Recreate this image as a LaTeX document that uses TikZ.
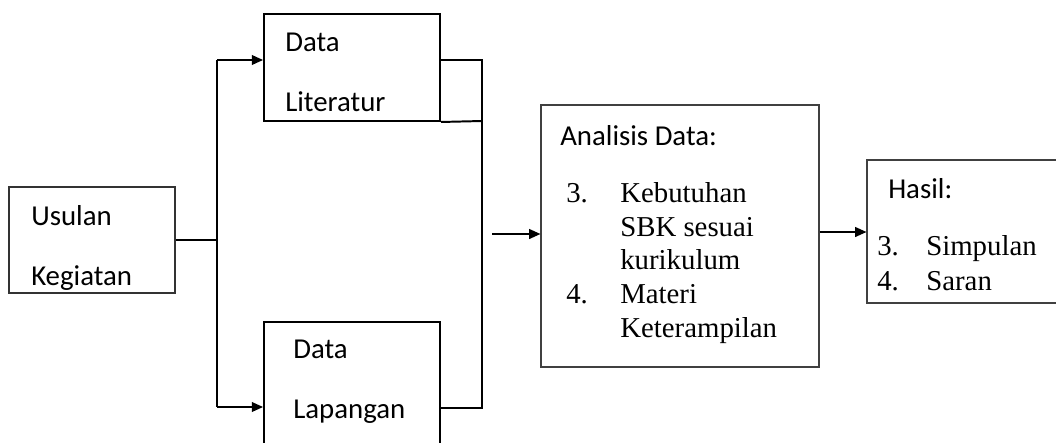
\documentclass[tikz,border=0pt]{standalone}
\usepackage{fontspec}
\setmainfont{Liberation Serif}
\newfontfamily\calibri{Carlito}
\usetikzlibrary{positioning,
        arrows.meta}
\newlength\pxu
\setlength\pxu{0.25mm}

\begin{document}
\begin{tikzpicture}[x=0.25mm,y=-0.25mm,
        box/.style={rectangle,draw,inner sep=0pt},
        sans/.style={inner sep=0pt,anchor=base west,align=left,font=\calibri\fontsize{20.5}{42}\selectfont},
        serif/.style={inner sep=0pt,anchor=base west,align=left,font=\fontsize{20.5}{23.6}\selectfont},
        arr/.style={-{Triangle[length=8pt,width=7pt]},line width=1pt}]
            \useasboundingbox (0,0) rectangle (1056,443);
            \clip (0,0) rectangle (1056,443);
            % boxes
            \node [box,line width=0.9pt,draw=black!80,minimum width=41.5mm,minimum height=26.5mm] (usulan) at (92,240) {};
            \node [box,line width=1.4pt,minimum width=44mm,minimum height=26.75mm] (lit) at (352,67.5) {};
            \node [box,line width=1.4pt,minimum width=44mm,minimum height=34.5mm] (lap) at (352,391) {};
            \node [box,line width=0.8pt,draw=black!75,minimum width=69.5mm,minimum height=65.5mm] (analisis) at (680,236) {};
            \node [box,line width=0.8pt,draw=black!75,minimum width=50.75mm,minimum height=35.75mm] (hasil) at (968.5,231.5) {};

            % texts (base = last line)
            \node [sans] (tusulan) at (31,285) {Usulan\\Kegiatan};
            \node [sans] (tlit) at (285,111) {Data\\Literatur};
            \node [sans] (tlap) at (293,418) {Data\\Lapangan};
            \node [sans] (tanalisis) at (560,145) {Analisis Data:};
            \node [serif] (lanalisis) at (566,337) {\makebox[54\pxu][l]{3.}Kebutuhan\\
                \hspace*{54\pxu}SBK sesuai\\
                \hspace*{54\pxu}kurikulum\\[1pt]
                \makebox[54\pxu][l]{4.}Materi\\
                \hspace*{54\pxu}Keterampilan};
            \node [sans] (thasil) at (888,198) {Hasil:};
            \node [serif] (lhasil) at (877,290) {\makebox[49\pxu][l]{3.}Simpulan\\[1pt]
                \makebox[49\pxu][l]{4.}Saran};

            % connectors
            \coordinate (split) at (217,240);
            \coordinate (splittop) at (217,60);
            \coordinate (splitbot) at (217,407);
            \coordinate (jointop) at (482,60);
            \coordinate (joinbot) at (482,408);
            \coordinate (joinmid) at (482,121);
            \coordinate (into) at (492,234);

            \draw [line width=0.9pt] (usulan.east |- split) -- (split);
            \draw [line width=0.9pt] (splittop) -- (splitbot);
            \draw [arr] (splittop) -- (lit.west |- splittop);
            \draw [arr] (splitbot) -- (lap.west |- splitbot);
            \draw [line width=1.4pt] (lit.east |- jointop) -- (jointop) -- (joinbot) -- (lap.east |- joinbot);
            \draw [line width=1.4pt] (lit.south east) -- (joinmid);
            \draw [arr] (into) -- (analisis.west |- into);
            \draw [arr] (analisis.east |- 0,232) -- (hasil.west |- 0,232);
        \end{tikzpicture}
\end{document}
